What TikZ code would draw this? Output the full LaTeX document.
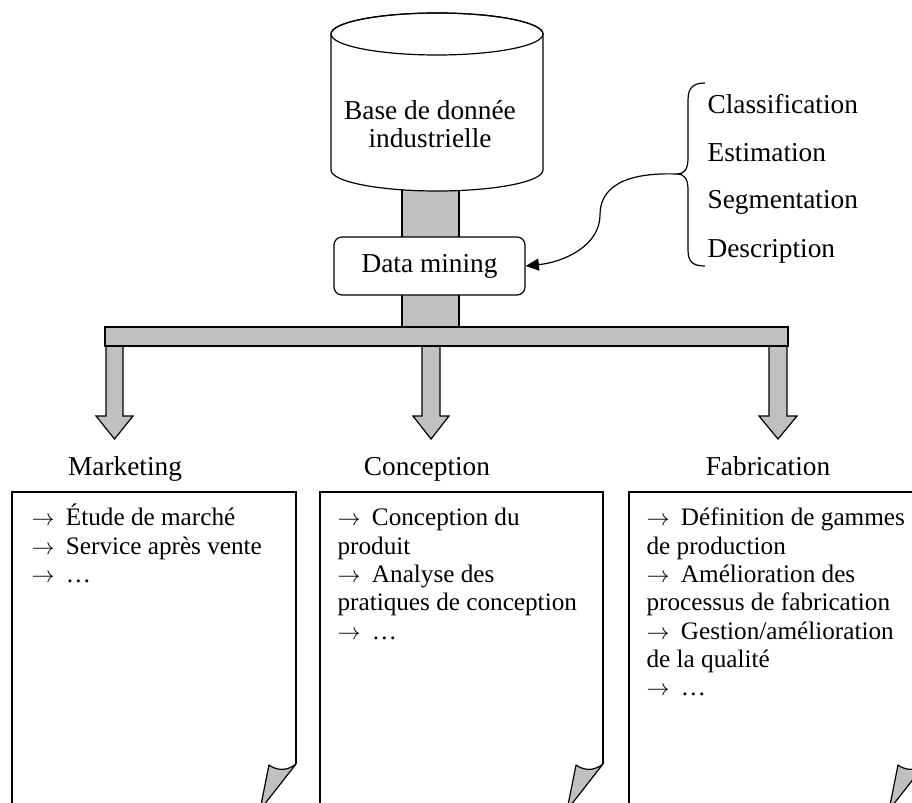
\documentclass[tikz,border=0pt]{standalone}
\usepackage{fontspec}
\setmainfont{Liberation Serif}
\usetikzlibrary{arrows.meta}
\definecolor{fillgray}{RGB}{192,192,192}
\newcommand{\myarr}{$\rightarrow$\hspace{8.5pt}}
\begin{document}
\begin{tikzpicture}[x=0.75pt,y=-0.75pt,line width=0.9pt,
  txt/.style={font=\fontsize{20.5}{21}\selectfont,inner sep=0pt},
  boxtxt/.style={font=\fontsize{18.9}{21.25}\selectfont,inner sep=0pt,anchor=north west,align=left},
  greyshape/.style={draw=black,fill=fillgray,line join=miter},
  foldshape/.style={draw=black,fill=fillgray,line join=round},
  pageline/.style={draw=black,line join=miter}]
\useasboundingbox (0,0) rectangle (912,802);
\clip (0,0) rectangle (912,802);

% vertical shaft
\draw[greyshape] (402,185) rectangle (459,327);

% cylinder (database)
\draw[fill=white] (331,34) -- (331,170)
  arc[start angle=180,end angle=0,x radius=106,y radius=21]
  -- (543,34) arc[start angle=0,end angle=-180,x radius=106,y radius=21] -- cycle;
\draw (437,34) ellipse[x radius=106,y radius=21];
\node[txt,align=center] (db) at (430,124) {Base de donnée\\industrielle};

% down arrows
\draw[greyshape] (106,346) -- (106,416) -- (96,416) -- (114.5,439) -- (133,416) -- (123,416) -- (123,346);
\draw[greyshape] (422,346) -- (422,416) -- (413,416) -- (431,439) -- (449,416) -- (440,416) -- (440,346);
\draw[greyshape] (769,346) -- (769,416) -- (759,416) -- (778,439) -- (797,416) -- (787,416) -- (787,346);

% horizontal bar
\draw[greyshape] (105,327) rectangle (788,346);

% data mining
\node[txt,draw,fill=white,rounded corners=6pt,minimum width=143.25pt,minimum height=43.5pt] (dm) at (429.5,266) {Data mining};

% brace
\draw[line join=round] (705,83) .. controls (693,83) and (688,88) .. (688,100) -- (688,158)
  .. controls (688,170) and (684,174) .. (677,174)
  .. controls (684,174) and (688,178) .. (688,190) -- (688,250)
  .. controls (688,262) and (693,266) .. (705,266);
\coordinate (bt) at (677,174);
\draw[-{Triangle[length=10pt,width=9pt]}] (bt) .. controls (620,172) and (600,190) .. (600,215)
  .. controls (600,245) and (565,262) .. (dm.east);

\node[txt,anchor=base west] (cls) at (707,114) {Classification};
\node[txt,anchor=base west] (est) at (707,162) {Estimation};
\node[txt,anchor=base west] (seg) at (707,209) {Segmentation};
\node[txt,anchor=base west] (des) at (707,257) {Description};

% category labels
\node[txt,anchor=base] (mkt) at (125,475) {Marketing};
\node[txt,anchor=base] (con) at (427,475) {Conception};
\node[txt,anchor=base] (fab) at (768,475) {Fabrication};

% pages
\draw[pageline] (12,830) -- (12,492) -- (296,492) -- (296,764);
\draw[foldshape] (296,764) .. controls (286,772) and (276,770) .. (269,765) -- (260,810) -- cycle;
\draw[pageline] (320,830) -- (320,492) -- (603,492) -- (603,764);
\draw[foldshape] (603,764) .. controls (593,772) and (583,770) .. (576,765) -- (567,810) -- cycle;
\draw[pageline] (629,830) -- (629,492) -- (925,492) -- (925,764);
\draw[foldshape] (925,764) .. controls (915,772) and (905,770) .. (898,765) -- (889,810) -- cycle;

\node[boxtxt] (mktxt) at (31,500) {\rule{0pt}{19pt}\myarr Étude de marché\\\myarr Service après vente\\\myarr …};
\node[boxtxt] (contxt) at (337,500) {\rule{0pt}{19pt}\myarr Conception du\\produit\\\myarr Analyse des\\pratiques de conception\\\myarr …};
\node[boxtxt] (fabtxt) at (646,500) {\rule{0pt}{19pt}\myarr Définition de gammes\\de production\\\myarr Amélioration des\\processus de fabrication\\\myarr Gestion/amélioration\\de la qualité\\\myarr …};
\end{tikzpicture}
\end{document}
